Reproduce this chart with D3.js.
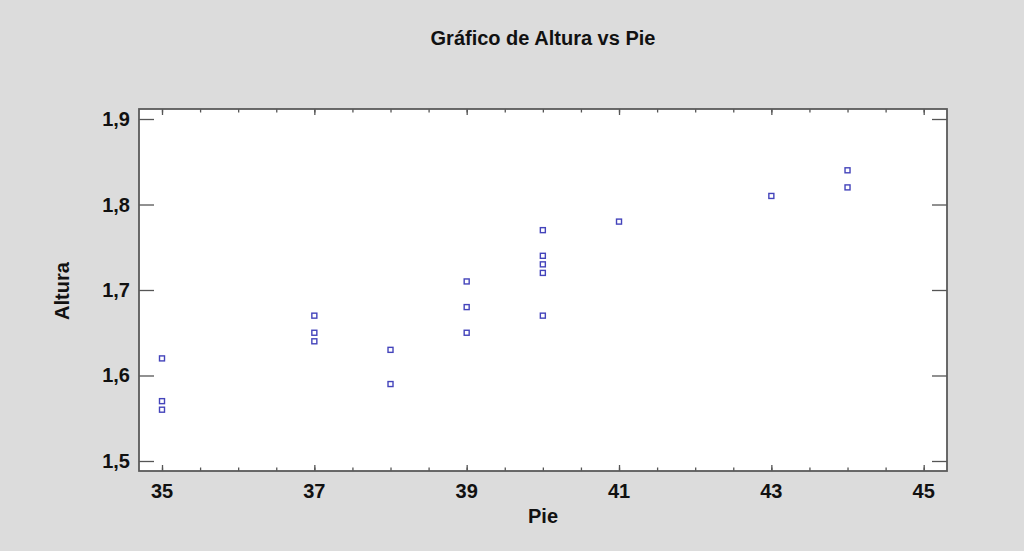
<!DOCTYPE html>
<html>
<head>
<meta charset="utf-8">
<script src="https://cdn.jsdelivr.net/npm/d3@7/dist/d3.min.js"></script>
<style>
  html, body { margin: 0; padding: 0; background: #dcdcdc; }
  svg { display: block; }
  text { font-family: "Liberation Sans", Arial, sans-serif; font-weight: bold; fill: #111; }
</style>
</head>
<body>
<svg id="chart" width="1024" height="551"></svg>
<script>
const pie    = [35, 35, 35, 37, 37, 37, 38, 38, 39, 39, 39, 40, 40, 40, 40, 40, 41, 43, 44, 44];
const altura = [1.62, 1.57, 1.56, 1.67, 1.65, 1.64, 1.63, 1.59, 1.71, 1.68, 1.65, 1.77, 1.74, 1.73, 1.72, 1.67, 1.78, 1.81, 1.84, 1.82];
const xTickLabels = [35, 37, 39, 41, 43, 45];
const xMinorTicks = d3.range(35, 45.01, 0.5);
const yTickLabels = [1.5, 1.6, 1.7, 1.8, 1.9];

const svg = d3.select("#chart");
const L = 139, T = 109, R = 947, B = 471;

const x = d3.scaleLinear().domain([34.698, 45.306]).range([L, R]);
const y = d3.scaleLinear().domain([1.4883, 1.9117]).range([B, T]);

svg.append("rect").attr("x", L).attr("y", T).attr("width", R - L).attr("height", B - T)
  .attr("fill", "#ffffff");

const fmt = d => d3.format(".1f")(d).replace(".", ",");
const tickCol = "#555";

// bottom axis (inward ticks)
const gB = svg.append("g").attr("transform", `translate(0,${B})`);
gB.call(d3.axisTop(x).tickValues(xMinorTicks).tickSize(3.5).tickFormat(""));
gB.append("g").call(d3.axisTop(x).tickValues(xTickLabels).tickSize(6).tickFormat(""));
// top axis
const gT = svg.append("g").attr("transform", `translate(0,${T})`);
gT.call(d3.axisBottom(x).tickValues(xMinorTicks).tickSize(3.5).tickFormat(""));
gT.append("g").call(d3.axisBottom(x).tickValues(xTickLabels).tickSize(6).tickFormat(""));
// left axis
const gL = svg.append("g").attr("transform", `translate(${L},0)`);
gL.call(d3.axisRight(y).tickValues(yTickLabels).tickSize(15).tickFormat(""));
// right axis
const gR = svg.append("g").attr("transform", `translate(${R},0)`);
gR.call(d3.axisLeft(y).tickValues(yTickLabels).tickSize(15).tickFormat(""));

svg.selectAll(".domain").remove();
svg.selectAll(".tick line").attr("stroke", tickCol).attr("stroke-width", 1.3);

// frame
svg.append("rect").attr("x", L).attr("y", T).attr("width", R - L).attr("height", B - T)
  .attr("fill", "none").attr("stroke", "#5a5a5a").attr("stroke-width", 1.8);

// tick labels
svg.append("g").selectAll("text").data(xTickLabels).join("text")
  .attr("x", d => x(d)).attr("y", 498)
  .attr("text-anchor", "middle").attr("font-size", 20).text(d => d);
svg.append("g").selectAll("text").data(yTickLabels).join("text")
  .attr("x", 130).attr("y", d => y(d) + 7)
  .attr("text-anchor", "end").attr("font-size", 20).text(fmt);

// points
svg.append("g").selectAll("rect").data(pie.map((p, i) => [p, altura[i]])).join("rect")
  .attr("x", d => x(d[0]) - 2.5).attr("y", d => y(d[1]) - 2.5)
  .attr("width", 5).attr("height", 5)
  .attr("fill", "none").attr("stroke", "#4444bb").attr("stroke-width", 1.4);

// titles
svg.append("text").attr("x", 543).attr("y", 45).attr("text-anchor", "middle")
  .attr("font-size", 20).text("Gráfico de Altura vs Pie");
svg.append("text").attr("x", 543).attr("y", 523).attr("text-anchor", "middle")
  .attr("font-size", 20).text("Pie");
svg.append("text").attr("transform", "translate(69,291) rotate(-90)").attr("text-anchor", "middle")
  .attr("font-size", 20).text("Altura");
</script>
</body>
</html>
